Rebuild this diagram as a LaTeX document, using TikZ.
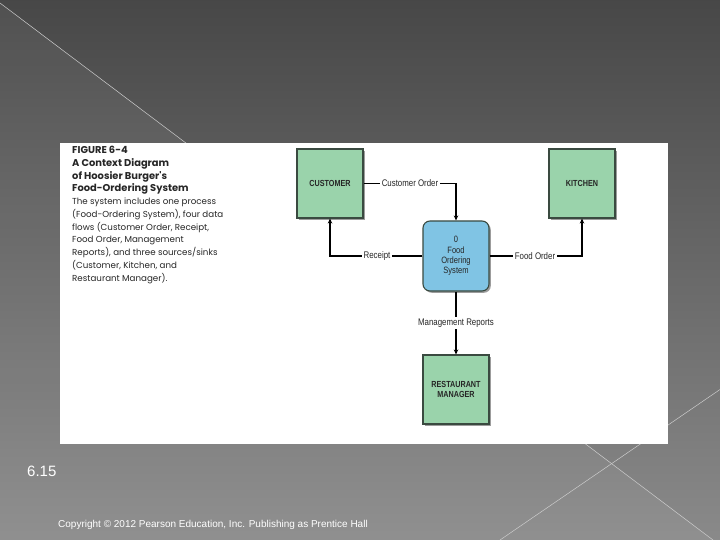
\documentclass[tikz,border=0pt]{standalone}
\usepackage{fontspec}
\setmainfont{Liberation Sans}
\newfontfamily\capfont{Poppins}
\newfontfamily\narrowfont[FakeStretch=0.82]{Liberation Sans}
\usetikzlibrary{arrows.meta,shadows}
\definecolor{boxgreen}{HTML}{9AD3AB}
\definecolor{procblue}{HTML}{80C4E4}
\definecolor{bordergray}{HTML}{3A4A40}
\tikzset{
  entity/.style={draw=bordergray, line width=1.1pt, fill=boxgreen, minimum width=66pt, minimum height=69pt,
    inner sep=0pt, align=center, font=\narrowfont\bfseries\fontsize{8.8}{10.5}\selectfont, text=black!85,
    drop shadow={shadow xshift=1.8pt, shadow yshift=-1.8pt, opacity=0.55, fill=black!70}},
  process/.style={draw=bordergray, line width=1.1pt, fill=procblue, rounded corners=7pt, minimum width=66pt,
    minimum height=70pt, inner sep=0pt, align=center, font=\narrowfont\fontsize{9.2}{10.2}\selectfont, text=black!85,
    drop shadow={shadow xshift=1.8pt, shadow yshift=-1.8pt, opacity=0.55, fill=black!70}},
  flow/.style={line width=1.7pt, black},
  flowarrow/.style={flow, -{Stealth[length=5pt,width=4.5pt]}},
  flowlabel/.style={fill=white, inner sep=2pt, font=\narrowfont\fontsize{9.6}{10}\selectfont, text=black!85},
}
\begin{document}
\begin{tikzpicture}[x=1pt,y=-1pt]
\useasboundingbox (0,0) rectangle (720,540);
% background
\shade[top color=black!72, bottom color=black!46] (0,0) rectangle (720,540);
\fill[white, opacity=0.05] (0,3) -- (713,540) -- (0,540) -- cycle;
\draw[white!60!gray, line width=0.5pt] (0,3) -- (713,540);
\draw[white!60!gray, line width=0.5pt] (720,389.5) -- (500,540);
% white panel
\fill[white] (60,143) rectangle (668,444);
% caption
\node[anchor=north west, align=left, inner sep=0pt, font=\capfont\fontsize{8.7}{12.75}\selectfont, text=black!85]
  (cap) at (72,146) {%
  {\bfseries\fontsize{9.9}{12.75}\selectfont FIGURE 6-4}\\
  {\bfseries\fontsize{9.9}{12.75}\selectfont A Context Diagram}\\
  {\bfseries\fontsize{9.9}{12.75}\selectfont of Hoosier Burger's}\\
  {\bfseries\fontsize{9.9}{12.75}\selectfont Food-Ordering System}\\
  The system includes one process\\
  (Food-Ordering System), four data\\
  flows (Customer Order, Receipt,\\
  Food Order, Management\\
  Reports), and three sources/sinks\\
  (Customer, Kitchen, and\\
  Restaurant Manager).};
% nodes
\node[entity] (cust) at (330,183.5) {CUSTOMER};
\node[entity] (kitch) at (582,183.5) {KITCHEN};
\node[process] (proc) at (456,256) {0\\Food\\Ordering\\System};
\node[entity] (mgr) at (456,389.5) {RESTAURANT\\MANAGER};
% flows
\draw[flowarrow] (cust.east) -| (proc.north)
  node[flowlabel, pos=0.5, xshift=-46pt] {Customer Order};
\draw[flowarrow] (proc.west) -| (cust.south)
  node[flowlabel, pos=0.5, xshift=47pt] {Receipt};
\draw[flowarrow] (proc.east) -| (kitch.south)
  node[flowlabel, pos=0.5, xshift=-47pt] {Food Order};
\draw[flowarrow] (proc.south) -- (mgr.north)
  node[flowlabel, midway] {Management Reports};
% footer
\node[anchor=base west, inner sep=0pt, text=white, font=\fontsize{15}{15}\selectfont] (num) at (27,476) {6.15};
\node[anchor=base west, inner sep=0pt, text=white, font=\fontsize{10}{10}\selectfont] (copy) at (58,527)
  {Copyright \textcopyright\ 2012 Pearson Education, Inc. Publishing as Prentice Hall};
\end{tikzpicture}
\end{document}
